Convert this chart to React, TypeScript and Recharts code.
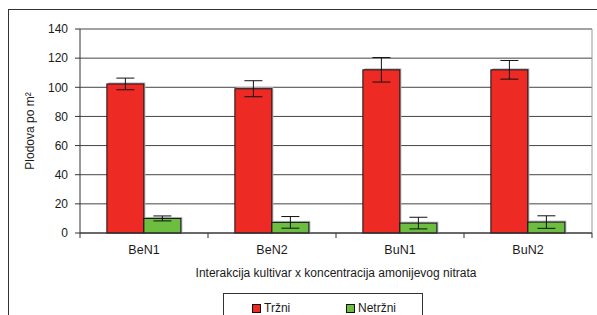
import React from "react";
import {
  BarChart,
  Bar,
  XAxis,
  YAxis,
  CartesianGrid,
  ErrorBar,
  Label,
} from "recharts";

const categories = ["BeN1", "BeN2", "BuN1", "BuN2"];
const trzni = [102.3, 99.0, 112.0, 112.0];
const trzniErr = [4.0, 5.5, 8.4, 6.4];
const netrzni = [10.0, 7.3, 6.8, 7.5];
const netrzniErr = [1.7, 4.0, 4.0, 4.3];
const yTicks = [0, 20, 40, 60, 80, 100, 120, 140];

const seriesNames = ["Tržni", "Netržni"];
const RED = "#EE2A24";
const GREEN = "#6CBD40";
const FONT = "'Liberation Sans', Arial, sans-serif";
const X_TICK_SIZE = 5;
const X_TICK_MARGIN = 7;

const data = categories.map((name, i) => ({
  name,
  trzni: trzni[i],
  trzniErr: trzniErr[i],
  netrzni: netrzni[i],
  netrzniErr: netrzniErr[i],
}));

const YLabel = (props: any) => {
  const vb = props.viewBox || {};
  const cx = vb.x + 20;
  const cy = vb.y + vb.height / 2;
  return (
    <text
      x={cx}
      y={cy}
      transform={`rotate(-90 ${cx} ${cy})`}
      textAnchor="middle"
      dominantBaseline="central"
      fontSize={12}
      fontFamily={FONT}
      fill="#1a1a1a"
    >
      Plodova po m²
    </text>
  );
};

const XTick = (props: any) => {
  const { x, y, payload, index, visibleTicksCount } = props;
  const off = payload && payload.offset ? payload.offset : 0;
  const axisY = y - X_TICK_SIZE - X_TICK_MARGIN;
  const isLast = index === (visibleTicksCount ?? categories.length) - 1;
  return (
    <g>
      <line x1={x - off} x2={x - off} y1={axisY} y2={axisY + X_TICK_SIZE} stroke="#333" />
      {isLast && (
        <line x1={x + off} x2={x + off} y1={axisY} y2={axisY + X_TICK_SIZE} stroke="#333" />
      )}
      <text
        x={x}
        y={y}
        dy="0.71em"
        textAnchor="middle"
        fontSize={12.5}
        fontFamily={FONT}
        fill="#1a1a1a"
      >
        {payload.value}
      </text>
    </g>
  );
};

const ShadowBar = (props: any) => {
  const { x, y, width, height, fill } = props;
  if (!height || height <= 0) return <g />;
  return (
    <g>
      <rect x={x + 1.5} y={y - 1.5} width={width} height={height + 1.5} fill="#b8b8be" />
      <rect x={x} y={y} width={width} height={height} fill={fill} stroke="#111" strokeWidth={1} />
    </g>
  );
};

const rightEdge = ({ offset }: any) => [offset.left + offset.width];

export default function App() {
  return (
    <div
      style={{
        position: "absolute",
        left: 0,
        top: 0,
        width: 597,
        height: 315,
        background: "#fff",
        overflow: "hidden",
        fontFamily: FONT,
      }}
    >
      <div
        style={{
          position: "absolute",
          left: 8,
          top: 9,
          width: 600,
          height: 320,
          borderTop: "1.5px solid #333",
          borderLeft: "1.5px solid #333",
        }}
      />
      <div style={{ position: "absolute", left: 0, top: 0 }}>
        <BarChart
          width={597}
          height={315}
          data={data}
          margin={{ top: 29, right: 5, left: 10, bottom: 38 }}
          barCategoryGap="21%"
          barGap={0}
        >
          <CartesianGrid vertical={false} stroke="#444" />
          <CartesianGrid
            horizontal={false}
            verticalCoordinatesGenerator={rightEdge}
            stroke="#999"
          />
          <XAxis
            dataKey="name"
            tickLine={false}
            tickSize={X_TICK_SIZE}
            tickMargin={X_TICK_MARGIN}
            axisLine={{ stroke: "#333" }}
            tick={<XTick />}
            interval={0}
            height={44}
          >
            <Label
              value="Interakcija kultivar x koncentracija amonijevog nitrata"
              position="insideBottom"
              offset={0}
              style={{ fontSize: 12, fill: "#1a1a1a", fontFamily: FONT }}
            />
          </XAxis>
          <YAxis
            domain={[0, 140]}
            ticks={yTicks}
            interval={0}
            width={70}
            tickSize={5}
            tickMargin={7}
            tickLine={{ stroke: "#333" }}
            axisLine={{ stroke: "#333" }}
            tick={{ fontSize: 12, fill: "#1a1a1a", fontFamily: FONT }}
          >
            <Label content={<YLabel />} />
          </YAxis>
          <Bar
            dataKey="trzni"
            name={seriesNames[0]}
            fill={RED}
            shape={ShadowBar}
            isAnimationActive={false}
          >
            <ErrorBar dataKey="trzniErr" width={9} stroke="#111" strokeWidth={1} />
          </Bar>
          <Bar
            dataKey="netrzni"
            name={seriesNames[1]}
            fill={GREEN}
            shape={ShadowBar}
            isAnimationActive={false}
          >
            <ErrorBar dataKey="netrzniErr" width={9} stroke="#111" strokeWidth={1} />
          </Bar>
        </BarChart>
      </div>
      <div
        style={{
          position: "absolute",
          left: 223,
          top: 293,
          width: 200,
          height: 30,
          border: "1px solid #333",
          boxSizing: "border-box",
        }}
      >
        {seriesNames.map((n, i) => (
          <div
            key={n}
            style={{
              position: "absolute",
              left: i === 0 ? 28 : 122,
              top: 7,
              display: "flex",
              alignItems: "center",
              fontSize: 12,
              color: "#1a1a1a",
              lineHeight: "14px",
            }}
          >
            <span
              style={{
                display: "inline-block",
                width: 7,
                height: 7,
                background: i === 0 ? RED : GREEN,
                border: "1px solid #111",
                marginRight: 3,
              }}
            />
            {n}
          </div>
        ))}
      </div>
    </div>
  );
}
